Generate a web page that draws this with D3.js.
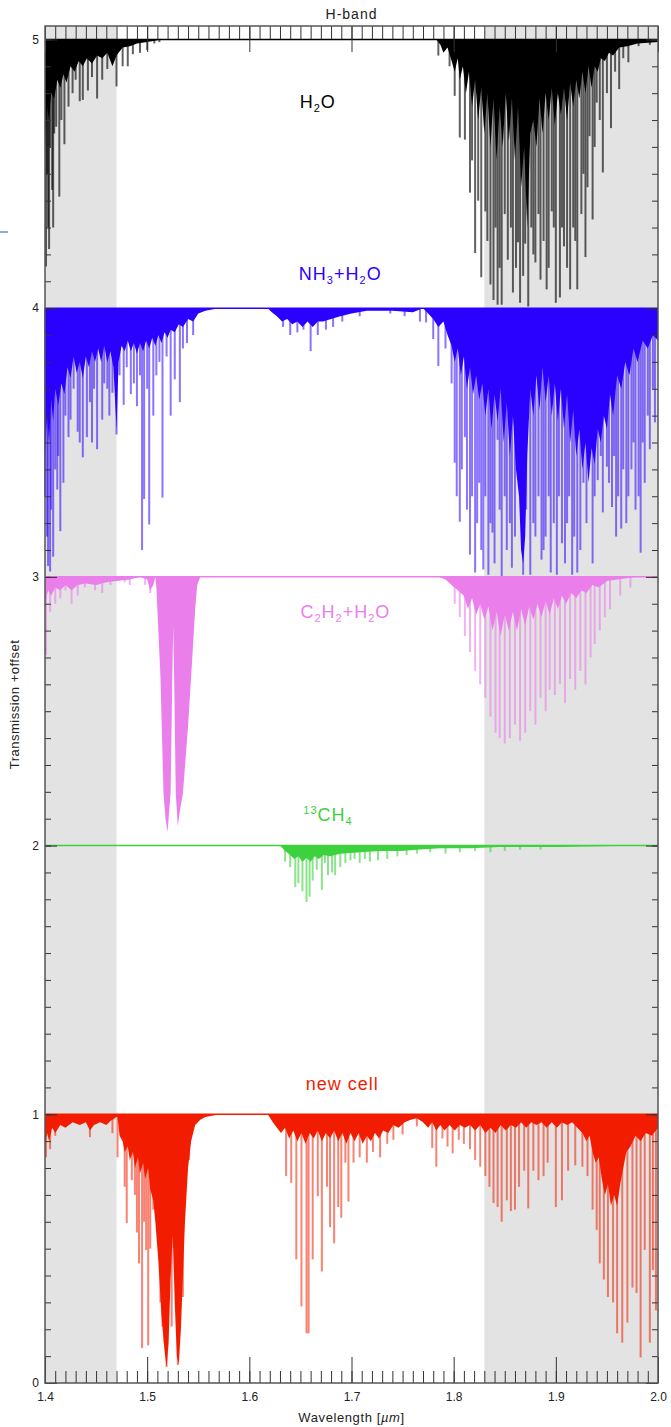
<!DOCTYPE html>
<html>
<head>
<meta charset="utf-8">
<script src="https://cdn.jsdelivr.net/npm/d3@7"></script>
<style>
body { margin: 0; background: #fff; }
text { font-family: "Liberation Sans", Arial, sans-serif; }
</style>
</head>
<body>
<svg width="671" height="1427"></svg>
<script>
// ---- data (wavelength in micron, transmission 0..1) ----
var xTicks = [1.4, 1.5, 1.6, 1.7, 1.8, 1.9, 2.0];
var yTicks = [0, 1, 2, 3, 4, 5];
var grayBands = [[1.4, 1.47], [1.83, 2.0]];

// H2O, offset 4
var h2oEnv = [[1.400,0.60],[1.402,0.75],[1.404,0.70],[1.406,0.80],[1.409,0.78],[1.412,0.85],[1.415,0.82],[1.418,0.87],[1.421,0.84],[1.425,0.90],[1.429,0.88],[1.433,0.92],[1.437,0.90],[1.441,0.93],[1.446,0.91],[1.451,0.94],[1.456,0.93],[1.461,0.95],[1.466,0.90],[1.470,0.94],[1.476,0.97],[1.483,0.975],[1.490,0.985],[1.500,0.99],[1.515,1],
  [1.783,1],[1.787,0.98],[1.790,0.95],[1.794,0.97],[1.798,0.92],[1.801,0.88],[1.804,0.93],[1.806,0.85],[1.809,0.90],[1.812,0.80],[1.815,0.88],[1.818,0.75],[1.821,0.85],[1.824,0.70],[1.827,0.82],[1.830,0.65],[1.833,0.80],[1.836,0.60],[1.839,0.78],[1.842,0.55],[1.845,0.75],[1.848,0.60],[1.851,0.80],[1.854,0.62],[1.857,0.78],[1.860,0.55],[1.863,0.75],[1.866,0.45],[1.869,0.60],[1.872,0.30],[1.875,0.65],[1.878,0.70],[1.881,0.60],[1.884,0.78],[1.887,0.65],[1.890,0.80],[1.893,0.70],[1.896,0.82],[1.899,0.68],[1.902,0.80],[1.905,0.72],[1.908,0.82],[1.911,0.70],[1.914,0.84],[1.917,0.75],[1.920,0.85],[1.923,0.78],[1.926,0.88],[1.929,0.80],[1.932,0.90],[1.935,0.82],[1.938,0.90],[1.941,0.88],[1.944,0.93],[1.948,0.92],[1.952,0.95],[1.956,0.94],[1.962,0.97],[1.970,0.975],[1.980,0.985],[2.000,0.99]];
var h2oLines = [[1.401,0.155],[1.402,0.50],[1.403,0.30],[1.404,0.22],[1.405,0.60],[1.407,0.44],[1.408,0.30],[1.409,0.65],[1.411,0.675],[1.414,0.415],[1.416,0.70],[1.419,0.61],[1.423,0.75],[1.427,0.80],[1.430,0.85],[1.434,0.77],[1.437,0.775],[1.442,0.81],[1.446,0.86],[1.451,0.78],[1.456,0.85],[1.461,0.89],[1.466,0.92],[1.470,0.825],[1.476,0.90],[1.481,0.90],[1.486,0.945],[1.493,0.95],[1.500,0.96],[1.507,0.985],[1.512,0.99],
  [1.785,0.94],[1.796,0.90],[1.801,0.79],[1.806,0.635],[1.811,0.627],[1.816,0.43],[1.818,0.55],[1.821,0.205],[1.824,0.40],[1.827,0.115],[1.831,0.36],[1.833,0.25],[1.836,0.088],[1.839,0.03],[1.841,0.30],[1.843,0.013],[1.845,0.15],[1.847,0.013],[1.850,0.35],[1.853,0.18],[1.856,0.30],[1.858,0.058],[1.861,0.15],[1.863,0.245],[1.865,0.02],[1.868,0.12],[1.870,0.24],[1.873,0.006],[1.876,0.30],[1.878,0.20],[1.880,0.17],[1.883,0.35],[1.885,0.106],[1.888,0.25],[1.891,0.07],[1.893,0.15],[1.896,0.36],[1.898,0.30],[1.900,0.02],[1.904,0.04],[1.906,0.30],[1.908,0.23],[1.911,0.15],[1.914,0.07],[1.917,0.30],[1.919,0.25],[1.921,0.07],[1.925,0.35],[1.927,0.50],[1.929,0.19],[1.931,0.45],[1.933,0.64],[1.936,0.33],[1.938,0.60],[1.940,0.765],[1.943,0.70],[1.946,0.505],[1.950,0.80],[1.954,0.67],[1.958,0.88],[1.962,0.815],[1.966,0.93],[1.971,0.915],[1.981,0.975],[1.992,0.98]];

// NH3 + H2O, offset 3
var nh3Env = [[1.400,0.45],[1.402,0.60],[1.404,0.50],[1.406,0.66],[1.408,0.58],[1.410,0.70],[1.413,0.64],[1.416,0.72],[1.419,0.68],[1.422,0.78],[1.425,0.74],[1.428,0.82],[1.431,0.76],[1.434,0.80],[1.437,0.74],[1.440,0.82],[1.443,0.78],[1.446,0.84],[1.449,0.80],[1.452,0.85],[1.455,0.80],[1.458,0.86],[1.461,0.80],[1.464,0.84],[1.467,0.78],[1.470,0.55],[1.472,0.80],[1.475,0.86],[1.478,0.84],[1.481,0.88],[1.484,0.84],[1.487,0.87],[1.490,0.83],[1.493,0.87],[1.496,0.84],[1.499,0.88],[1.502,0.85],[1.505,0.89],[1.508,0.86],[1.511,0.90],[1.514,0.87],[1.517,0.91],[1.520,0.89],[1.523,0.92],[1.527,0.91],[1.531,0.94],[1.535,0.93],[1.540,0.96],[1.545,0.95],[1.550,0.98],[1.557,0.99],[1.570,1],
  [1.618,1],[1.622,0.985],[1.627,0.97],[1.632,0.95],[1.637,0.96],[1.642,0.94],[1.647,0.95],[1.652,0.93],[1.657,0.95],[1.662,0.93],[1.667,0.95],[1.672,0.95],[1.680,0.96],[1.689,0.97],[1.700,0.98],[1.715,0.99],[1.740,0.99],[1.760,0.985],
  [1.770,1],[1.775,0.98],[1.780,0.96],[1.785,0.93],[1.790,0.95],[1.794,0.90],[1.798,0.86],[1.801,0.80],[1.804,0.85],[1.807,0.75],[1.810,0.82],[1.813,0.70],[1.816,0.78],[1.819,0.68],[1.822,0.75],[1.825,0.66],[1.828,0.72],[1.831,0.60],[1.834,0.70],[1.837,0.55],[1.840,0.68],[1.843,0.58],[1.846,0.70],[1.849,0.50],[1.852,0.65],[1.855,0.45],[1.858,0.60],[1.861,0.40],[1.864,0.30],[1.866,0.10],[1.868,0.05],[1.870,0.15],[1.872,0.45],[1.875,0.70],[1.878,0.60],[1.881,0.75],[1.884,0.62],[1.887,0.78],[1.890,0.65],[1.893,0.75],[1.896,0.60],[1.899,0.72],[1.902,0.58],[1.905,0.70],[1.908,0.55],[1.911,0.68],[1.914,0.50],[1.917,0.62],[1.920,0.45],[1.923,0.55],[1.926,0.40],[1.929,0.50],[1.932,0.35],[1.935,0.48],[1.938,0.42],[1.941,0.55],[1.944,0.50],[1.947,0.60],[1.950,0.55],[1.953,0.68],[1.956,0.60],[1.960,0.75],[1.964,0.70],[1.968,0.80],[1.972,0.75],[1.976,0.85],[1.980,0.80],[1.985,0.88],[1.990,0.85],[1.995,0.90],[2.000,0.88]];
var nh3Lines = [[1.400,0.30],[1.402,0.15],[1.403,0.04],[1.405,0.02],[1.406,0.25],[1.408,0.075],[1.410,0.40],[1.412,0.325],[1.413,0.45],[1.415,0.17],[1.418,0.35],[1.420,0.60],[1.423,0.52],[1.425,0.585],[1.428,0.70],[1.432,0.54],[1.434,0.50],[1.437,0.445],[1.441,0.52],[1.444,0.65],[1.446,0.50],[1.448,0.70],[1.451,0.475],[1.456,0.585],[1.458,0.72],[1.461,0.70],[1.463,0.60],[1.466,0.685],[1.470,0.53],[1.473,0.75],[1.477,0.64],[1.480,0.78],[1.484,0.68],[1.487,0.72],[1.490,0.635],[1.493,0.75],[1.495,0.10],[1.497,0.29],[1.500,0.70],[1.502,0.195],[1.506,0.60],[1.509,0.75],[1.512,0.80],[1.515,0.295],[1.519,0.82],[1.523,0.60],[1.527,0.735],[1.532,0.65],[1.535,0.85],[1.539,0.87],[1.545,0.90],
  [1.633,0.93],[1.640,0.90],[1.647,0.91],[1.653,0.92],[1.660,0.84],[1.667,0.90],[1.675,0.92],[1.682,0.93],[1.691,0.95],[1.708,0.97],[1.738,0.98],[1.752,0.97],[1.767,0.95],
  [1.773,0.947],[1.780,0.885],[1.785,0.785],[1.792,0.85],[1.798,0.72],[1.801,0.425],[1.803,0.30],[1.806,0.205],[1.808,0.40],[1.811,0.52],[1.813,0.25],[1.816,0.083],[1.818,0.30],[1.821,0.016],[1.823,0.20],[1.825,0.35],[1.827,0.10],[1.829,0.027],[1.831,0.30],[1.834,0.008],[1.836,0.20],[1.838,0.165],[1.840,0.05],[1.843,0.51],[1.845,0.25],[1.847,0],[1.850,0.30],[1.852,0.10],[1.855,0.20],[1.857,0.034],[1.860,0.15],[1.863,0.62],[1.866,0.30],[1.868,0.008],[1.871,0.25],[1.875,0.008],[1.878,0.20],[1.880,0.15],[1.883,0.30],[1.886,0.064],[1.888,0.10],[1.890,0.15],[1.893,0.30],[1.895,0.016],[1.898,0.20],[1.901,0.008],[1.903,0.30],[1.906,0.125],[1.909,0.05],[1.911,0.20],[1.913,0.30],[1.916,0.008],[1.918,0.15],[1.921,0.016],[1.924,0.10],[1.927,0.35],[1.930,0.20],[1.932,0.425],[1.936,0.05],[1.938,0.30],[1.941,0.36],[1.944,0.45],[1.946,0.24],[1.950,0.41],[1.952,0.35],[1.955,0.26],[1.957,0.45],[1.959,0.15],[1.961,0.30],[1.964,0.18],[1.966,0.40],[1.969,0.20],[1.971,0.30],[1.974,0.40],[1.976,0.50],[1.978,0.25],[1.981,0.30],[1.983,0.09],[1.985,0.50],[1.987,0.35],[1.990,0.60],[1.992,0.475],[1.995,0.70],[1.997,0.575]];

// C2H2 + H2O, offset 2
var c2h2Env = [[1.400,0.90],[1.403,0.95],[1.406,0.93],[1.410,0.96],[1.415,0.95],[1.420,0.97],[1.426,0.95],[1.432,0.97],[1.440,0.975],[1.450,0.97],[1.460,0.98],[1.470,0.985],[1.483,0.99],[1.493,1],[1.500,0.99],[1.503,0.95],[1.506,0.97],
  [1.508,1],[1.509,0.96],[1.513,0.63],[1.516,0.195],[1.518,0.10],[1.520,0.052],[1.523,0.20],[1.5245,0.60],[1.5255,0.816],[1.5265,0.60],[1.528,0.195],[1.530,0.071],[1.532,0.13],[1.535,0.195],[1.540,0.443],[1.544,0.69],[1.547,0.88],[1.549,0.97],[1.552,1],
  [1.785,1],[1.792,0.99],[1.798,0.97],[1.804,0.95],[1.810,0.93],[1.814,0.88],[1.818,0.92],[1.822,0.86],[1.826,0.90],[1.830,0.84],[1.834,0.89],[1.838,0.80],[1.842,0.87],[1.846,0.78],[1.850,0.86],[1.854,0.80],[1.858,0.87],[1.862,0.80],[1.866,0.88],[1.870,0.82],[1.874,0.89],[1.878,0.84],[1.882,0.90],[1.886,0.85],[1.890,0.91],[1.894,0.86],[1.898,0.92],[1.902,0.88],[1.906,0.93],[1.910,0.90],[1.915,0.94],[1.920,0.92],[1.925,0.95],[1.930,0.94],[1.936,0.97],[1.942,0.96],[1.950,0.985],[1.960,0.99],[1.980,1],[2.000,1]];
var c2h2Lines = [[1.401,0.71],[1.405,0.87],[1.410,0.90],[1.415,0.92],[1.420,0.95],[1.426,0.90],[1.432,0.93],[1.439,0.96],[1.449,0.95],[1.456,0.94],[1.464,0.97],[1.478,0.98],[1.483,0.97],[1.498,0.97],[1.503,0.94],
  [1.801,0.90],[1.806,0.85],[1.811,0.78],[1.816,0.72],[1.821,0.65],[1.826,0.60],[1.831,0.55],[1.836,0.48],[1.841,0.42],[1.845,0.40],[1.850,0.38],[1.855,0.40],[1.860,0.45],[1.865,0.39],[1.870,0.42],[1.875,0.50],[1.880,0.45],[1.885,0.55],[1.890,0.50],[1.894,0.58],[1.899,0.56],[1.904,0.60],[1.909,0.53],[1.914,0.62],[1.919,0.58],[1.924,0.65],[1.929,0.60],[1.934,0.70],[1.938,0.75],[1.943,0.80],[1.948,0.85],[1.953,0.88],[1.963,0.93],[1.973,0.96]];

// 13CH4, offset 1
var ch4Env = [[1.630,1],[1.635,0.98],[1.640,0.965],[1.644,0.95],[1.648,0.96],[1.652,0.94],[1.656,0.955],[1.660,0.94],[1.664,0.96],[1.668,0.95],[1.673,0.965],[1.679,0.96],[1.689,0.97],[1.708,0.975],[1.728,0.98],[1.748,0.98],[1.767,0.985],[1.787,0.99],[1.816,0.99],[1.845,0.995],[1.904,0.995],[1.983,1]];
var ch4Lines = [[1.635,0.94],[1.640,0.92],[1.645,0.845],[1.648,0.86],[1.652,0.83],[1.656,0.79],[1.659,0.81],[1.662,0.87],[1.666,0.91],[1.671,0.835],[1.674,0.935],[1.677,0.89],[1.681,0.90],[1.684,0.89],[1.689,0.92],[1.694,0.935],[1.699,0.945],[1.703,0.95],[1.708,0.935],[1.713,0.95],[1.718,0.94],[1.726,0.945],[1.735,0.95],[1.745,0.96],[1.754,0.965],[1.764,0.97],[1.777,0.975],[1.792,0.97],[1.806,0.975],[1.821,0.98],[1.836,0.975],[1.850,0.98],[1.865,0.985],[1.885,0.985]];

// new cell, offset 0
var cellEnv = [[1.400,0.88],[1.402,0.93],[1.404,0.90],[1.407,0.95],[1.410,0.93],[1.415,0.96],[1.420,0.95],[1.427,0.97],[1.434,0.96],[1.440,0.97],[1.444,0.94],[1.448,0.96],[1.454,0.97],[1.460,0.96],[1.464,0.975],[1.470,0.99],
  [1.471,0.99],[1.473,0.92],[1.476,0.90],[1.478,0.86],[1.481,0.88],[1.483,0.83],[1.486,0.86],[1.488,0.80],[1.491,0.84],[1.493,0.78],[1.496,0.82],[1.498,0.76],[1.501,0.80],[1.503,0.72],[1.506,0.68],[1.508,0.60],[1.511,0.45],[1.514,0.25],[1.517,0.12],[1.519,0.06],[1.521,0.15],[1.523,0.40],[1.525,0.55],[1.527,0.30],[1.529,0.10],[1.531,0.07],[1.533,0.20],[1.535,0.40],[1.537,0.60],[1.540,0.80],[1.543,0.90],[1.547,0.96],[1.552,0.98],[1.557,0.99],[1.571,1],
  [1.618,1],[1.623,0.97],[1.627,0.95],[1.631,0.93],[1.635,0.95],[1.639,0.91],[1.643,0.94],[1.647,0.90],[1.651,0.93],[1.655,0.89],[1.659,0.93],[1.663,0.91],[1.667,0.94],[1.671,0.90],[1.675,0.93],[1.679,0.91],[1.683,0.94],[1.687,0.90],[1.691,0.93],[1.695,0.89],[1.699,0.93],[1.703,0.90],[1.707,0.93],[1.711,0.89],[1.715,0.92],[1.719,0.90],[1.723,0.93],[1.727,0.91],[1.731,0.94],[1.736,0.93],[1.741,0.96],[1.746,0.95],[1.752,0.97],[1.758,0.98],[1.764,0.985],[1.770,0.97],[1.775,0.95],[1.779,0.97],[1.783,0.94],[1.787,0.96],[1.791,0.94],[1.796,0.96],[1.801,0.94],[1.806,0.96],[1.811,0.95],[1.816,0.96],[1.821,0.94],[1.826,0.96],[1.831,0.93],[1.836,0.95],[1.841,0.93],[1.846,0.96],[1.851,0.94],[1.856,0.96],[1.861,0.95],[1.866,0.97],[1.871,0.95],[1.876,0.97],[1.881,0.96],[1.886,0.97],[1.891,0.95],[1.896,0.97],[1.901,0.95],[1.906,0.97],[1.911,0.96],[1.916,0.97],[1.921,0.95],[1.926,0.93],[1.930,0.90],[1.933,0.92],[1.936,0.86],[1.939,0.82],[1.942,0.84],[1.945,0.76],[1.948,0.70],[1.951,0.74],[1.954,0.66],[1.957,0.70],[1.960,0.66],[1.963,0.74],[1.966,0.80],[1.969,0.86],[1.973,0.88],[1.978,0.92],[1.983,0.90],[1.988,0.93],[1.994,0.92],[2.000,0.95]];
var cellLines = [[1.401,0.84],[1.405,0.87],[1.410,0.92],[1.444,0.915],[1.466,0.93],
  [1.471,0.84],[1.478,0.73],[1.480,0.595],[1.485,0.755],[1.488,0.70],[1.490,0.56],[1.492,0.445],[1.495,0.13],[1.497,0.60],[1.499,0.495],[1.501,0.14],[1.503,0.50],[1.506,0.645],[1.510,0.905],[1.513,0.30],[1.515,0.21],[1.517,0.15],[1.519,0.06],[1.522,0.40],[1.524,0.21],[1.527,0.655],[1.530,0.067],[1.533,0.35],[1.535,0.32],[1.537,0.72],[1.541,0.83],[1.545,0.96],
  [1.636,0.77],[1.641,0.745],[1.646,0.46],[1.651,0.285],[1.656,0.185],[1.658,0.185],[1.662,0.46],[1.667,0.695],[1.671,0.415],[1.676,0.73],[1.679,0.58],[1.683,0.52],[1.687,0.655],[1.690,0.615],[1.694,0.82],[1.697,0.675],[1.702,0.82],[1.708,0.84],[1.715,0.82],[1.721,0.86],[1.728,0.84],[1.735,0.89],[1.741,0.905],[1.750,0.925],[1.764,0.955],[1.779,0.875],[1.783,0.805],[1.789,0.91],[1.794,0.88],[1.799,0.855],[1.805,0.905],[1.810,0.89],[1.816,0.87],[1.821,0.83],[1.826,0.805],
  [1.831,0.77],[1.835,0.73],[1.839,0.67],[1.843,0.655],[1.847,0.60],[1.852,0.68],[1.856,0.64],[1.860,0.645],[1.864,0.73],[1.869,0.79],[1.873,0.65],[1.878,0.79],[1.883,0.755],[1.888,0.77],[1.892,0.82],[1.900,0.655],[1.906,0.68],[1.912,0.79],[1.919,0.81],[1.926,0.805],[1.931,0.77],[1.936,0.645],[1.940,0.57],[1.943,0.445],[1.947,0.385],[1.951,0.32],[1.956,0.30],[1.960,0.185],[1.965,0.15],[1.970,0.225],[1.975,0.355],[1.979,0.335],[1.983,0.095],[1.987,0.495],[1.992,0.15],[1.995,0.42],[1.998,0.27]];

// ---- setup ----
var svg = d3.select("svg"),
    width = +svg.attr("width"),
    height = +svg.attr("height");

var x = d3.scaleLinear().domain([1.4, 2.0]).range([45, 658]);
var y = d3.scaleLinear().domain([0, 5.05]).range([1383, 26]);

var spectra = [
  { env: h2oEnv,  lines: h2oLines,  offset: 4, color: "#000000", op: 0.62, label: [["H"],["2","sub"],["O"]], at: [1.667, 4.745] },
  { env: nh3Env,  lines: nh3Lines,  offset: 3, color: "#2a00ff", op: 0.55, label: [["NH"],["3","sub"],["+H"],["2","sub"],["O"]], at: [1.689, 4.105] },
  { env: c2h2Env, lines: c2h2Lines, offset: 2, color: "#ea7eea", op: 0.6, label: [["C"],["2","sub"],["H"],["2","sub"],["+H"],["2","sub"],["O"]], at: [1.694, 2.847] },
  { env: ch4Env,  lines: ch4Lines,  offset: 1, color: "#3ed13e", op: 0.6, label: [["13","sup"],["CH"],["4","sub"]], at: [1.677, 2.09] },
  { env: cellEnv, lines: cellLines, offset: 0, color: "#f21d00", op: 0.55, label: [["new  cell"]], at: [1.691, 1.09] }
];

// gray shaded windows
svg.append("g").selectAll("rect")
    .data(grayBands)
    .enter().append("rect")
    .attr("x", function (d) { return x(d[0]); })
    .attr("width", function (d) { return x(d[1]) - x(d[0]); })
    .attr("y", y(5.05))
    .attr("height", y(0) - y(5.05))
    .attr("fill", "#e3e3e3");

spectra.forEach(function (s) {
    var g = svg.append("g");
    var base = y(s.offset + 1);

    // individual absorption lines, lighter
    g.selectAll("line")
        .data(s.lines)
        .enter().append("line")
        .attr("x1", function (d) { return x(d[0]); })
        .attr("x2", function (d) { return x(d[0]); })
        .attr("y1", base)
        .attr("y2", function (d) { return y(s.offset + d[1]); })
        .attr("stroke", s.color)
        .attr("stroke-opacity", s.op)
        .attr("stroke-width", 2);

    // dense (unresolved) forest near the continuum
    var area = d3.area()
        .x(function (d) { return x(d[0]); })
        .y0(base)
        .y1(function (d) { return y(s.offset + d[1]); });
    g.append("path")
        .datum(s.env)
        .attr("d", area)
        .attr("fill", s.color);

    // continuum
    g.append("path")
        .datum(x.domain().map(function (w) { return [w, 1]; }))
        .attr("d", d3.line()
            .x(function (d) { return x(d[0]); })
            .y(function (d) { return y(s.offset + d[1]); }))
        .attr("stroke", s.color)
        .attr("stroke-width", 1.5);

    // species label
    var t = svg.append("text")
        .attr("x", x(s.at[0]))
        .attr("y", y(s.at[1]))
        .attr("text-anchor", "middle")
        .attr("fill", s.color)
        .style("font-size", "18px")
        .style("letter-spacing", "1px");
    var prev = null;
    s.label.forEach(function (p) {
        var ts = t.append("tspan").text(p[0]);
        var dy = 0;
        if (prev == "sub") dy -= 4;
        if (prev == "sup") dy += 7;
        if (p[1] == "sub") { ts.style("font-size", "11px"); dy += 4; }
        if (p[1] == "sup") { ts.style("font-size", "11px"); dy -= 7; }
        if (dy) ts.attr("dy", dy);
        prev = p[1] || null;
    });
});

// ---- axes ----
var axisColor = "#333";
var xMinor = d3.range(140, 201).map(function (v) { return v / 100; });
var yMinor = d3.range(0, 51).map(function (v) { return v / 10; });

function styleAxis(g) {
    g.select(".domain").remove();
    g.selectAll("line").attr("stroke", axisColor).attr("stroke-width", 1);
    g.selectAll("text").attr("fill", "#222").style("font-size", "12px")
        .style("font-family", "'Liberation Sans', Arial, sans-serif");
}

svg.append("g").attr("transform", "translate(0," + y(0) + ")")
    .call(d3.axisBottom(x).tickValues(xMinor).tickSize(-12).tickFormat("")).call(styleAxis);
svg.append("g").attr("transform", "translate(0," + y(0) + ")")
    .call(d3.axisBottom(x).tickValues(xTicks).tickSize(-26).tickPadding(9).tickFormat(d3.format(".1f"))).call(styleAxis);
svg.append("g").attr("transform", "translate(0," + y(5.05) + ")")
    .call(d3.axisTop(x).tickValues(xMinor).tickSize(-13).tickFormat("")).call(styleAxis);
svg.append("g").attr("transform", "translate(0," + y(5.05) + ")")
    .call(d3.axisTop(x).tickValues(xTicks).tickSize(-26).tickFormat("")).call(styleAxis);

svg.append("g").attr("transform", "translate(" + x(1.4) + ",0)")
    .call(d3.axisLeft(y).tickValues(yMinor).tickSize(-6).tickFormat("")).call(styleAxis);
svg.append("g").attr("transform", "translate(" + x(1.4) + ",0)")
    .call(d3.axisLeft(y).tickValues(yTicks).tickSize(-12).tickPadding(6).tickFormat(d3.format("d"))).call(styleAxis);
svg.append("g").attr("transform", "translate(" + x(2.0) + ",0)")
    .call(d3.axisRight(y).tickValues(yMinor).tickSize(-6).tickFormat("")).call(styleAxis);
svg.append("g").attr("transform", "translate(" + x(2.0) + ",0)")
    .call(d3.axisRight(y).tickValues(yTicks).tickSize(-12).tickFormat("")).call(styleAxis);

// frame
svg.append("rect")
    .attr("x", x(1.4)).attr("y", y(5.05))
    .attr("width", x(2.0) - x(1.4)).attr("height", y(0) - y(5.05))
    .attr("fill", "none").attr("stroke", "#555").attr("stroke-width", 1.5);

// titles
svg.append("text")
    .attr("x", (x(1.4) + x(2.0)) / 2).attr("y", 19)
    .attr("text-anchor", "middle").style("font-size", "14px").style("letter-spacing", "1px").attr("fill", "#222")
    .text("H-band");

var xl = svg.append("text")
    .attr("x", (x(1.4) + x(2.0)) / 2).attr("y", 1422)
    .attr("text-anchor", "middle").style("font-size", "13px").style("letter-spacing", "0.6px").attr("fill", "#222");
xl.append("tspan").text("Wavelength [");
xl.append("tspan").style("font-style", "italic").text("\u00b5m");
xl.append("tspan").text("]");

svg.append("text")
    .attr("transform", "translate(19," + (y(0) + y(5.05)) / 2 + ") rotate(-90)")
    .attr("text-anchor", "middle").style("font-size", "13px").style("letter-spacing", "0.5px").attr("fill", "#222")
    .text("Transmission +offset");

// stray mark at the left edge of the original
svg.append("line")
    .attr("x1", 0).attr("x2", 8).attr("y1", 232).attr("y2", 232)
    .attr("stroke", "#3b6fd6").attr("stroke-width", 1.2);
</script>
</body>
</html>
